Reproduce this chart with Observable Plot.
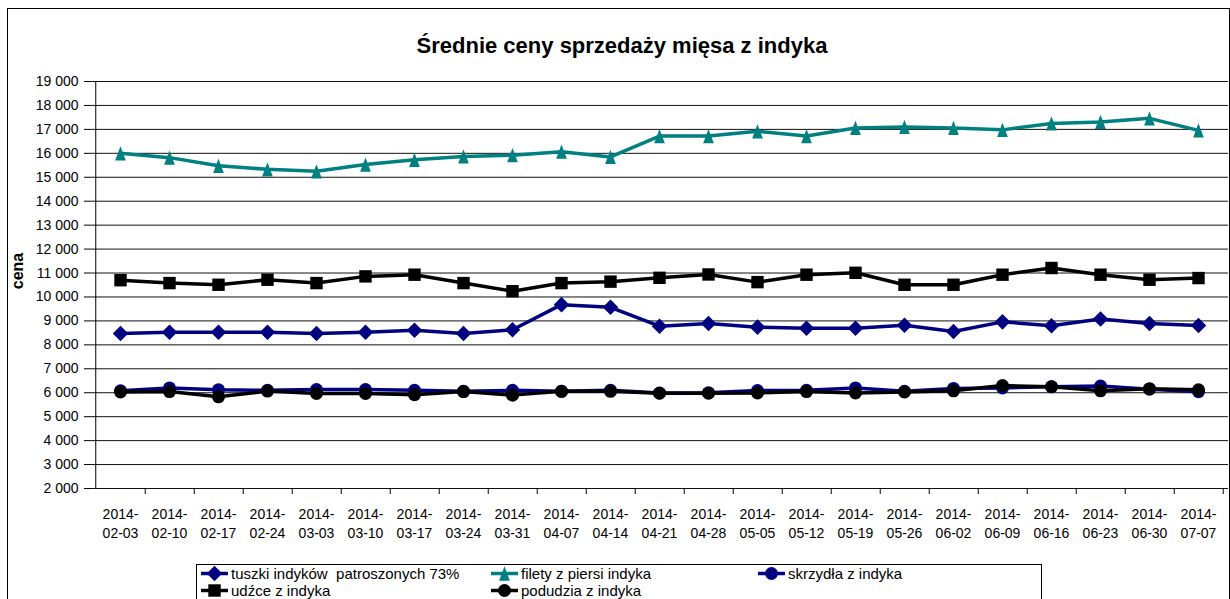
<!DOCTYPE html>
<html>
<head>
<meta charset="utf-8">
<script src="https://cdn.jsdelivr.net/npm/d3@7"></script>
<script src="https://cdn.jsdelivr.net/npm/@observablehq/plot@0.6"></script>
<style>
  html, body { margin: 0; padding: 0; background: #fff; }
  #wrap { position: relative; width: 1230px; height: 599px; overflow: hidden; background: #fff; font-family: "Liberation Sans", Arial, sans-serif; color: #000; }
  #frame { position: absolute; left: 7px; top: 8px; width: 1221px; height: 620px; border: 1px solid #000; }
  #title { position: absolute; left: 0; top: 33px; width: 1244px; text-align: center; font-weight: bold; font-size: 22px; }
  #ylabel { position: absolute; left: 18px; top: 271px; transform: translate(-50%, -50%) rotate(-90deg); font-weight: bold; font-size: 16px; white-space: nowrap; }
  #chart { position: absolute; left: 0; top: 70px; }
  #legend { position: absolute; left: 196px; top: 564px; width: 844px; height: 60px; border: 1px solid #000; background: #fff; }
  .item { position: absolute; height: 17px; line-height: 17px; font-size: 15px; white-space: pre; display: flex; align-items: center; }
  .item svg { display: block; margin-right: 3px; }
</style>
</head>
<body>
<div id="wrap">
  <div id="frame"></div>
  <div id="title">Średnie ceny sprzedaży mięsa z indyka</div>
  <div id="ylabel">cena</div>
  <div id="chart"></div>
  <div id="legend"></div>
</div>
<script>
// ---- data ----
const dates = ["2014-02-03","2014-02-10","2014-02-17","2014-02-24","2014-03-03","2014-03-10","2014-03-17","2014-03-24","2014-03-31","2014-04-07","2014-04-14","2014-04-21","2014-04-28","2014-05-05","2014-05-12","2014-05-19","2014-05-26","2014-06-02","2014-06-09","2014-06-16","2014-06-23","2014-06-30","2014-07-07"];
const tuszki   = [8470, 8530, 8530, 8530, 8470, 8530, 8610, 8470, 8630, 9680, 9570, 8780, 8890, 8740, 8690, 8690, 8820, 8560, 8960, 8800, 9080, 8890, 8810];
const filety   = [16000, 15820, 15480, 15330, 15250, 15530, 15730, 15870, 15920, 16070, 15850, 16720, 16720, 16920, 16720, 17060, 17100, 17060, 16980, 17250, 17310, 17460, 16960];
const skrzydla = [6080, 6200, 6120, 6100, 6130, 6130, 6100, 6060, 6100, 6060, 6100, 5990, 6000, 6090, 6100, 6200, 6060, 6180, 6200, 6250, 6280, 6150, 6040];
const udzce    = [10700, 10580, 10510, 10720, 10580, 10860, 10930, 10580, 10240, 10580, 10640, 10800, 10940, 10620, 10930, 11010, 10510, 10510, 10930, 11210, 10930, 10720, 10790];
const podudzia = [6030, 6050, 5830, 6070, 5970, 5970, 5920, 6050, 5900, 6060, 6060, 5980, 5980, 5990, 6050, 5990, 6030, 6080, 6300, 6250, 6080, 6170, 6120];
const seriesNames = ["tuszki indyków  patroszonych 73%", "filety z piersi indyka", "skrzydła z indyka", "udźce z indyka", "podudzia z indyka"];
const yTicks = [2000,3000,4000,5000,6000,7000,8000,9000,10000,11000,12000,13000,14000,15000,16000,17000,18000,19000];

// ---- styles ----
const narrowTriangle = {
  draw(ctx, size) {
    const h = Math.sqrt(size) * 1.15, w = h * 0.75;
    ctx.moveTo(0, -h / 2); ctx.lineTo(w / 2, h / 2); ctx.lineTo(-w / 2, h / 2); ctx.closePath();
  }
};
const series = [
  {name: seriesNames[0], values: tuszki,   color: "#000080", symbol: "diamond2", r: 7},
  {name: seriesNames[1], values: filety,   color: "#008080", symbol: narrowTriangle, r: 7},
  {name: seriesNames[2], values: skrzydla, color: "#000080", symbol: "circle", r: 6.5},
  {name: seriesNames[3], values: udzce,    color: "#000000", symbol: "square", r: 7},
  {name: seriesNames[4], values: podudzia, color: "#000000", symbol: "circle", r: 6.5}
];

const W = 1230, H = 475, mL = 90, mR = 2, mT = 11, mB = 57;
const step = (W - mL - mR) / dates.length;
const fmt = d => d3.format(",")(d).replace(/,/g, " ");

const marks = [
  Plot.ruleY(yTicks, {y: d => d, stroke: "#111", strokeWidth: 1}),
  Plot.ruleX([dates[0]], {x: d => d, dx: -step / 2, y1: 2000, y2: 19000, stroke: "#000"}),
  Plot.ruleX(dates, {x: d => d, dx: step / 2, y1: 2000, y2: 2000, insetBottom: -6, stroke: "#000"}),
  Plot.axisY(yTicks, {tickSize: 6, tickPadding: 6, tickFormat: fmt, fontSize: 14, label: null}),
  Plot.axisX({tickSize: 0, tickPadding: 17, fontSize: 14, lineHeight: 1.36, tickFormat: d => d.slice(0, 5) + "\n" + d.slice(5), label: null})
];
for (const s of series) {
  const rows = dates.map((d, i) => ({date: d, value: s.values[i]}));
  marks.push(Plot.line(rows, {x: "date", y: "value", stroke: s.color, strokeWidth: 3.5}));
  marks.push(Plot.dot(rows, {x: "date", y: "value", fill: s.color, stroke: "none", symbol: s.symbol, r: s.r}));
}

const chart = Plot.plot({
  width: W, height: H, marginLeft: mL, marginRight: mR, marginTop: mT, marginBottom: mB,
  style: {fontFamily: "'Liberation Sans', Arial, sans-serif", color: "#000", background: "transparent", overflow: "visible"},
  x: {type: "point", domain: dates, padding: 0.5},
  y: {domain: [2000, 19000]},
  marks
});
document.getElementById("chart").appendChild(chart);

// ---- legend ----
const legendPos = [[4, 0], [294, 0], [561, 0], [4, 17], [294, 17]];
const legend = d3.select("#legend");
series.forEach((s, i) => {
  const item = legend.append("div").attr("class", "item")
    .style("left", legendPos[i][0] + "px").style("top", legendPos[i][1] + "px");
  const svg = item.append("svg").attr("width", 27).attr("height", 17);
  svg.append("line").attr("x1", 0).attr("x2", 27).attr("y1", 8.5).attr("y2", 8.5)
    .attr("stroke", s.color).attr("stroke-width", 3.5);
  const symType = s.symbol === "diamond2" ? d3.symbolDiamond2 : s.symbol === "circle" ? d3.symbolCircle : s.symbol === "square" ? d3.symbolSquare : s.symbol;
  svg.append("path").attr("transform", "translate(13.5,8.5)")
    .attr("d", d3.symbol(symType, Math.PI * s.r * s.r)())
    .attr("fill", s.color);
  item.append("span").text(s.name);
});
</script>
</body>
</html>
